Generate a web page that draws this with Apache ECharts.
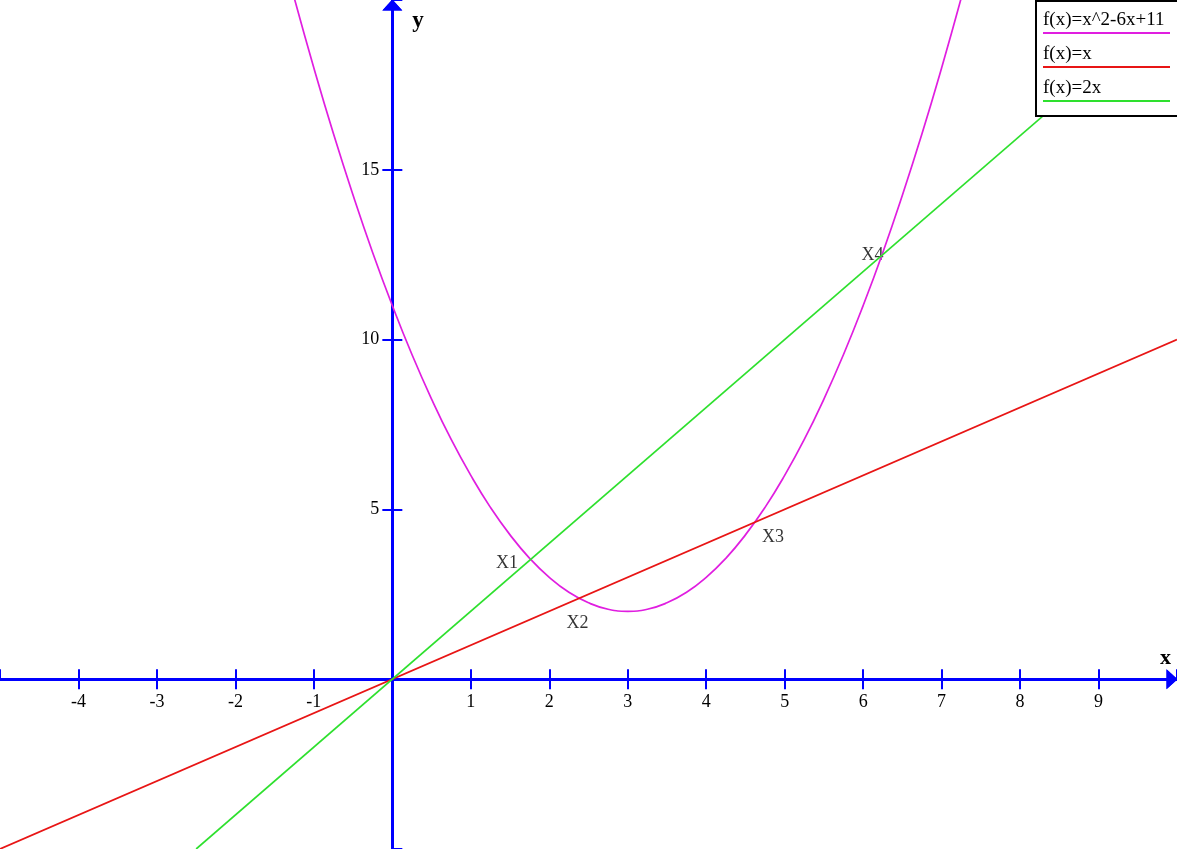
<!doctype html>
<html lang="en">
<head>
    <meta charset="UTF-8" />
    <title>f(x)</title>
    <script src="https://cdn.jsdelivr.net/npm/echarts@6/dist/echarts.min.js"></script>
    <style>
        html, body { margin: 0; padding: 0; background: #fff; }
        #main { width: 1177px; height: 849px; }
    </style>
</head>
<body>
    <div id="main"></div>
    <script type="text/javascript">
        // values
        var parabolaX = [-1.5, -1.25, -1, -0.75, -0.5, -0.25, 0, 0.25, 0.5, 0.75, 1, 1.25, 1.5, 1.75, 2, 2.25, 2.5, 2.75, 3,
            3.25, 3.5, 3.75, 4, 4.25, 4.5, 4.75, 5, 5.25, 5.5, 5.75, 6, 6.25, 6.5, 6.75, 7, 7.25, 7.5];
        var parabolaY = [22.25, 20.06, 18, 16.06, 14.25, 12.56, 11, 9.56, 8.25, 7.06, 6, 5.06, 4.25, 3.56, 3, 2.56, 2.25, 2.06, 2,
            2.06, 2.25, 2.56, 3, 3.56, 4.25, 5.06, 6, 7.06, 8.25, 9.56, 11, 12.56, 14.25, 16.06, 18, 20.06, 22.25];
        var lineX = [-5, 10];
        var lineY = [-5, 10];
        var doubleX = [-2.5, 10];
        var doubleY = [-5, 20];
        var pointNames = ['X1', 'X2', 'X3', 'X4'];
        var pointX = [1.46, 2.36, 4.85, 6.12];
        var pointY = [3.4, 1.66, 4.18, 12.49];
        var legendNames = ['f(x)=x^2-6x+11', 'f(x)=x', 'f(x)=2x'];
        var colors = ['#e01ee0', '#e81515', '#2ee02e'];
        var xRange = [-5, 10];
        var yRange = [-5, 20];

        function pairs(xs, ys) {
            var out = [];
            for (var i = 0; i < xs.length; i++) out.push([xs[i], ys[i]]);
            return out;
        }

        var serif = 'Liberation Serif';
        var axisBlue = '#0000ff';
        var W = 1177, H = 849;
        // move the axes onto the zero lines (onZero puts the labels elsewhere in v6)
        var xAxisShift = -H * (0 - yRange[0]) / (yRange[1] - yRange[0]);
        var yAxisShift = -W * (0 - xRange[0]) / (xRange[1] - xRange[0]);

        // axis 0 carries labels + outward ticks, axis 1 the inward half of the ticks
        function xAxisOf(main) {
            return {
                type: 'value', position: 'bottom', offset: xAxisShift,
                min: xRange[0], max: xRange[1], interval: 1,
                splitLine: { show: false },
                axisLine: {
                    onZero: false,
                    lineStyle: { color: axisBlue, width: 3 },
                    symbol: ['none', 'triangle'], symbolSize: [20, 11], symbolOffset: [0, -5]
                },
                axisTick: { inside: !main, length: 10, lineStyle: { color: axisBlue, width: 2 } },
                axisLabel: {
                    show: main, margin: 14, showMinLabel: false, showMaxLabel: false,
                    color: '#000', fontFamily: serif, fontSize: 18,
                    formatter: function (v) { return v === 0 ? '' : String(v); }
                },
                name: main ? 'x' : '', nameLocation: 'end', nameGap: -17,
                nameTextStyle: { fontFamily: serif, fontSize: 22, fontWeight: 'bold', color: '#000',
                    align: 'left', verticalAlign: 'bottom', padding: [0, 0, 10, 0] }
            };
        }

        function yAxisOf(main) {
            return {
                type: 'value', position: 'left', offset: yAxisShift,
                min: yRange[0], max: yRange[1], interval: 5,
                splitLine: { show: false },
                axisLine: {
                    onZero: false,
                    lineStyle: { color: axisBlue, width: 3 },
                    symbol: ['none', 'triangle'], symbolSize: [20, 11], symbolOffset: [0, -5]
                },
                axisTick: { inside: !main, length: 10, lineStyle: { color: axisBlue, width: 2 } },
                axisLabel: {
                    show: main, margin: 13, showMinLabel: false, showMaxLabel: false,
                    color: '#000', fontFamily: serif, fontSize: 18,
                    formatter: function (v) { return v === 0 ? '' : String(v); }
                },
                name: main ? 'y' : '', nameLocation: 'end', nameGap: -10,
                nameTextStyle: { fontFamily: serif, fontSize: 23, fontWeight: 'bold', color: '#000',
                    align: 'left', verticalAlign: 'top', padding: [0, 0, 0, 20] }
            };
        }

        var chart = echarts.init(document.getElementById('main'));

        var legendItems = [{
            type: 'rect', left: 1035, top: 0, z: 100,
            shape: { width: 150, height: 115 },
            style: { fill: '#fff', stroke: '#000', lineWidth: 2 }
        }];
        for (var i = 0; i < legendNames.length; i++) {
            legendItems.push({
                type: 'text', x: 1043, y: 20 + i * 34, z: 101,
                style: { text: legendNames[i], fill: '#000', font: '19px "Liberation Serif"', verticalAlign: 'middle' }
            });
            legendItems.push({
                type: 'line', z: 101,
                shape: { x1: 1043, y1: 33 + i * 34, x2: 1170, y2: 33 + i * 34 },
                style: { stroke: colors[i], lineWidth: 2 }
            });
        }

        var option = {
            animation: false,
            backgroundColor: '#fff',
            grid: { left: 0, right: 0, top: 0, bottom: 0, containLabel: false, outerBoundsMode: 'none' },
            xAxis: [xAxisOf(true), xAxisOf(false)],
            yAxis: [yAxisOf(true), yAxisOf(false)],
            graphic: legendItems,
            series: [{
                name: legendNames[0], type: 'line', smooth: true, showSymbol: false,
                data: pairs(parabolaX, parabolaY),
                lineStyle: { color: colors[0], width: 1.7 }
            }, {
                name: legendNames[1], type: 'line', showSymbol: false,
                data: pairs(lineX, lineY),
                lineStyle: { color: colors[1], width: 1.7 }
            }, {
                name: legendNames[2], type: 'line', showSymbol: false,
                data: pairs(doubleX, doubleY),
                lineStyle: { color: colors[2], width: 1.7 }
            }, {
                type: 'scatter', symbolSize: 1,
                itemStyle: { color: 'rgba(0,0,0,0)' },
                data: pointNames.map(function (n, i) { return { name: n, value: [pointX[i], pointY[i]] }; }),
                label: {
                    show: true, position: 'inside', formatter: '{b}',
                    color: '#000', fontFamily: serif, fontSize: 18
                }
            }]
        };
        chart.setOption(option);
    </script>
</body>
</html>
